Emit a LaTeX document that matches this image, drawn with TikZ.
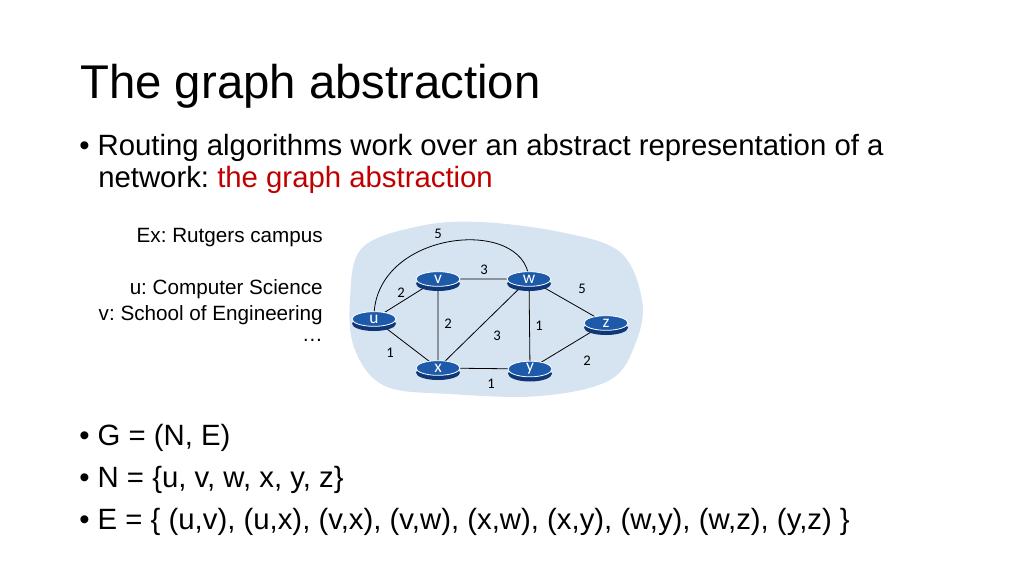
\documentclass[tikz,border=0pt]{standalone}
\usepackage{fontspec}
\setmainfont{Liberation Sans}
\newfontfamily\calib{Carlito}
\usetikzlibrary{shapes.geometric,backgrounds}
\definecolor{blob}{RGB}{214,228,242}
\definecolor{rblue}{RGB}{30,90,170}
\definecolor{rdark}{RGB}{15,55,120}
\definecolor{red1}{RGB}{192,0,0}
\tikzset{
 router/.style={ellipse,fill=rblue,draw=white,line width=0.6pt,minimum width=33pt,minimum height=11pt,inner sep=0pt,text=white,font=\calib\fontsize{13}{13}\selectfont,
  preaction={fill=rdark,transform canvas={yshift=-3.5pt}}},
 wl/.style={font=\calib\fontsize{11}{11}\selectfont,inner sep=0pt},
 link/.style={draw=black,line width=0.6pt},
 txt/.style={inner sep=0pt,anchor=west},
 small/.style={inner sep=0pt,anchor=east,font=\fontsize{15.5}{16}\selectfont}
}
\begin{document}
\frenchspacing
\begin{tikzpicture}[x=0.75pt,y=-0.75pt]
\useasboundingbox (0,0) rectangle (1024,576);
\node[txt,font=\fontsize{35.5}{38}\selectfont] (title) at (80,86) {The graph abstraction};
\node[txt,font=\fontsize{22}{24}\selectfont] (b1) at (79,148) {• Routing algorithms work over an abstract representation of a};
\node[txt,font=\fontsize{22}{24}\selectfont] (b1b) at (98,180) {network: \textcolor{red1}{the graph abstraction}};
\node[small] (e1) at (323,238) {Ex: Rutgers campus};
\node[small] (e2) at (323,289) {u: Computer Science};
\node[small] (e3) at (323,315) {v: School of Engineering};
\node[small] (e4) at (323,340) {…};
\node[txt,font=\fontsize{22}{24}\selectfont] (c1) at (79,438) {• G = (N, E)};
\node[txt,font=\fontsize{22}{24}\selectfont] (c2) at (79,480) {• N = \{u, v, w, x, y, z\}};
\node[txt,font=\fontsize{22}{24}\selectfont] (c3) at (79,522) {• E = \{ (u,v), (u,x), (v,x), (v,w), (x,w), (x,y), (w,y), (w,z), (y,z) \}};

\node[router] (u) at (374,319) {u};
\node[router] (v) at (438,279) {v};
\node[router] (w) at (529,279) {w};
\node[router] (z) at (606,323) {z};
\node[router] (x) at (438,368) {x};
\node[router] (y) at (530,369) {y};

\begin{pgfonlayer}{background}
\fill[blob] plot[smooth cycle,tension=0.6] coordinates {(350,300) (362,248) (420,226) (480,222) (560,232) (620,252) (642,300) (636,342) (610,380) (540,396) (450,394) (385,386) (355,350)};
\draw[link] (u.center) -- (v.center) (u.center) -- (x.center) (v.center) -- (x.center)
 (v.center) -- (w.center) (x.center) -- (w.center) (x.center) -- (y.center)
 (w.center) -- (y.center) (w.center) -- (z.center) (y.center) -- (z.center);
\draw[link] (u.center) .. controls (372,230) and (525,215) .. (w.center);
\end{pgfonlayer}

\node[wl] (l1) at (438,234) {5};
\node[wl] (l2) at (484,270) {3};
\node[wl] (l3) at (401,293) {2};
\node[wl] (l4) at (582,289) {5};
\node[wl] (l5) at (448,324) {2};
\node[wl] (l6) at (497,336) {3};
\node[wl] (l7) at (539,326) {1};
\node[wl] (l8) at (390,353) {1};
\node[wl] (l9) at (587,361) {2};
\node[wl] (l10) at (491,384) {1};
\end{tikzpicture}
\end{document}
